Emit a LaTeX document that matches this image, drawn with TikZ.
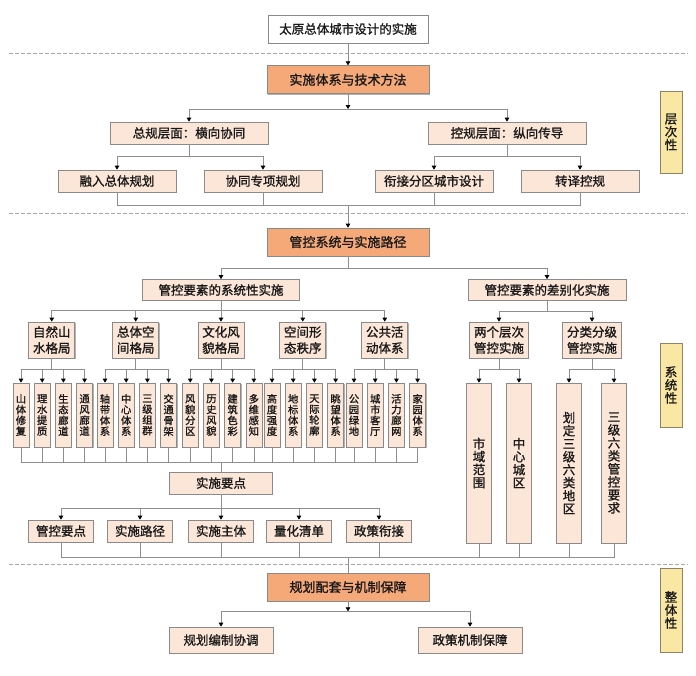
\documentclass[tikz,border=0pt]{standalone}
\usepackage{fontspec}
\setmainfont{Noto Sans CJK SC}[FakeBold=1.2]
\usetikzlibrary{positioning,arrows.meta,shadows}

\definecolor{headfill}{HTML}{F5A878}
\definecolor{peach}{HTML}{FCE6D7}
\definecolor{tagfill}{HTML}{FAE7A4}
\definecolor{tagline}{HTML}{8C8466}
\definecolor{boxline}{HTML}{8A8A8A}
\definecolor{linkgray}{HTML}{8E8E8E}

\tikzset{
  card/.style={draw=boxline, line width=.7pt, fill=peach, inner sep=0pt, align=center,
    text=black!90, font=\fontsize{12.5}{14}\selectfont,
    drop shadow={shadow xshift=.9pt, shadow yshift=-.9pt, fill=black, opacity=.3}},
  headbox/.style={card, fill=headfill, minimum width=162pt, minimum height=28pt, font=\fontsize{13}{14}\selectfont},
  titlebox/.style={card, fill=white, minimum width=160pt, minimum height=28pt},
  widebox/.style={card, minimum width=158pt, minimum height=22pt},
  lvlbox/.style={card, minimum width=118pt, minimum height=22pt},
  groupbox/.style={card, minimum width=46pt, minimum height=36pt, font=\fontsize{12.5}{16}\selectfont},
  leaf/.style={card, minimum width=16pt, minimum height=64pt, font=\fontsize{10.3}{10.8}\selectfont},
  tallbox/.style={card, minimum width=25pt, minimum height=160pt, font=\fontsize{12.5}{13}\selectfont},
  smallbox/.style={card, minimum width=65pt, minimum height=22pt},
  sidetag/.style={card, fill=tagfill, draw=tagline, minimum width=22pt, minimum height=84pt, font=\fontsize{12.5}{13}\selectfont},
  link/.style={draw=linkgray, line width=.7pt},
  arr/.style={link, -{Triangle[width=4.6pt,length=4pt,color=black]}},
  elbow/.style={to path={-| (\tikztotarget)}},
  vjoin/.style={to path={|- (\tikztotarget)}},
  sep/.style={draw=black!35, line width=.8pt, dash pattern=on 3.5pt off 2.5pt},
}

\begin{document}
\begin{tikzpicture}[x=1pt, y=-1pt]
\useasboundingbox (0,0) rectangle (696,675);

% section separators
\draw[sep] (9,53) -- (688,53);
\draw[sep] (9,213) -- (688,213);
\draw[sep] (9,564) -- (688,564);

% side tags
\node[sidetag, minimum height=82pt] (ycc) at (671,132) {层\\次\\性};
\node[sidetag] (xtx) at (671,385) {系\\统\\性};
\node[sidetag] (ztx) at (671,610) {整\\体\\性};

% top: implementation system
\node[titlebox] (t) at (348,29) {太原总体城市设计的实施};
\node[headbox, below=22pt of t] (o1) {实施体系与技术方法};
\node[widebox] (zg) at (189,133) {总规层面：横向协同};
\node[widebox] (kg) at (507,133) {控规层面：纵向传导};
\node[lvlbox] (rz) at (117,181) {融入总体规划};
\node[lvlbox] (xt) at (263,181) {协同专项规划};
\node[lvlbox] (xj) at (434,181) {衔接分区城市设计};
\node[lvlbox] (zy) at (580,181) {转译控规};

% middle: control system
\node[headbox] (o2) at (348,242) {管控系统与实施路径};
\node[widebox, minimum width=157pt, minimum height=21pt] (sy) at (221,290) {管控要素的系统性实施};
\node[widebox, minimum height=21pt] (cy) at (547,290) {管控要素的差别化实施};

\node[groupbox] (g1) at (51.75,340) {自然山\\水格局};
\node[groupbox] (g2) at (135.75,340) {总体空\\间格局};
\node[groupbox] (g3) at (221,340) {文化风\\貌格局};
\node[groupbox] (g4) at (302.75,340) {空间形\\态秩序};
\node[groupbox] (g5) at (384.75,340) {公共活\\动体系};
\node[groupbox, minimum width=59pt] (h1) at (499,340) {两个层次\\管控实施};
\node[groupbox, minimum width=59pt] (h2) at (592,340) {分类分级\\管控实施};

\node[leaf] (a1) at (21,415) {山\\体\\修\\复};
\node[leaf, right=4.5pt of a1] (a2) {理\\水\\提\\质};
\node[leaf, right=4.5pt of a2] (a3) {生\\态\\廊\\道};
\node[leaf, right=4.5pt of a3] (a4) {通\\风\\廊\\道};
\node[leaf] (b1) at (105,415) {轴\\带\\体\\系};
\node[leaf, right=4.5pt of b1] (b2) {中\\心\\体\\系};
\node[leaf, right=4.5pt of b2] (b3) {三\\级\\组\\群};
\node[leaf, right=4.5pt of b3] (b4) {交\\通\\骨\\架};
\node[leaf] (c1) at (190.25,415) {风\\貌\\分\\区};
\node[leaf, right=4.5pt of c1] (c2) {历\\史\\风\\貌};
\node[leaf, right=4.5pt of c2] (c3) {建\\筑\\色\\彩};
\node[leaf, right=4.5pt of c3] (c4) {多\\维\\感\\知};
\node[leaf] (d1) at (272,415) {高\\度\\强\\度};
\node[leaf, right=4.5pt of d1] (d2) {地\\标\\体\\系};
\node[leaf, right=4.5pt of d2] (d3) {天\\际\\轮\\廓};
\node[leaf, right=4.5pt of d3] (d4) {眺\\望\\体\\系};
\node[leaf] (e1) at (354,415) {公\\园\\绿\\地};
\node[leaf, right=4.5pt of e1] (e2) {城\\市\\客\\厅};
\node[leaf, right=4.5pt of e2] (e3) {活\\力\\廊\\网};
\node[leaf, right=4.5pt of e3] (e4) {家\\园\\体\\系};

\node[tallbox] (s1) at (479,463) {市\\域\\范\\围};
\node[tallbox] (s2) at (519,463) {中\\心\\城\\区};
\node[tallbox] (s3) at (569,463) {划\\定\\三\\级\\六\\类\\地\\区};
\node[tallbox] (s4) at (614,463) {三\\级\\六\\类\\管\\控\\要\\求};

\node[card, minimum width=103pt, minimum height=22pt] (k) at (221,483) {实施要点};
\node[smallbox] (p1) at (61,531) {管控要点};
\node[smallbox] (p2) at (140,531) {实施路径};
\node[smallbox] (p3) at (221,531) {实施主体};
\node[smallbox] (p4) at (299,531) {量化清单};
\node[smallbox] (p5) at (379,531) {政策衔接};

% bottom: supporting mechanisms
\node[headbox] (o3) at (348,587) {规划配套与机制保障};
\node[card, minimum width=104pt, minimum height=26pt] (f1) at (221,640) {规划编制协调};
\node[card, minimum width=104pt, minimum height=26pt] (f2) at (470,640) {政策机制保障};

% junctions and merge points
\coordinate (m1) at (348,205);
\coordinate (m2) at (221,462);
\coordinate (m3) at (348,557);

% connectors, top
\draw[arr] (t) -- (o1);
\draw[arr] (o1.south) -- ++(0,15) coordinate (j1);
\path (j1) edge[arr, elbow] (zg.north) edge[arr, elbow] (kg.north);
\draw[link] (zg.south) -- ++(0,12) coordinate (j2);
\draw[link] (kg.south) -- ++(0,12) coordinate (j3);
\path (j2) edge[arr, elbow] (rz.north) edge[arr, elbow] (xt.north);
\path (j3) edge[arr, elbow] (xj.north) edge[arr, elbow] (zy.north);
\path (rz.south) edge[link, vjoin] (m1) (xt.south) edge[link, vjoin] (m1)
      (xj.south) edge[link, vjoin] (m1) (zy.south) edge[link, vjoin] (m1);
\draw[arr] (m1) -- (o2.north);

% connectors, middle
\draw[link] (o2.south) -- ++(0,12) coordinate (j4);
\path (j4) edge[arr, elbow] (sy.north) edge[arr, elbow] (cy.north);
\draw[link] (sy.south) -- ++(0,9.5) coordinate (j5);
\draw[link] (cy.south) -- ++(0,10.5) coordinate (j6);
\path (j5) edge[arr, elbow] (g1.north) edge[arr, elbow] (g2.north) edge[arr, elbow] (g3.north)
           edge[arr, elbow] (g4.north) edge[arr, elbow] (g5.north);
\path (j6) edge[arr, elbow] (h1.north) edge[arr, elbow] (h2.north);

\draw[link] (g1.south) -- ++(0,11) coordinate (ja);
\draw[link] (g2.south) -- ++(0,11) coordinate (jb);
\draw[link] (g3.south) -- ++(0,11) coordinate (jc);
\draw[link] (g4.south) -- ++(0,11) coordinate (jd);
\draw[link] (g5.south) -- ++(0,11) coordinate (je);
\draw[link] (h1.south) -- ++(0,11) coordinate (jh1);
\draw[link] (h2.south) -- ++(0,11) coordinate (jh2);
\path (ja) edge[arr, elbow] (a1.north) edge[arr, elbow] (a2.north) edge[arr, elbow] (a3.north) edge[arr, elbow] (a4.north);
\path (jb) edge[arr, elbow] (b1.north) edge[arr, elbow] (b2.north) edge[arr, elbow] (b3.north) edge[arr, elbow] (b4.north);
\path (jc) edge[arr, elbow] (c1.north) edge[arr, elbow] (c2.north) edge[arr, elbow] (c3.north) edge[arr, elbow] (c4.north);
\path (jd) edge[arr, elbow] (d1.north) edge[arr, elbow] (d2.north) edge[arr, elbow] (d3.north) edge[arr, elbow] (d4.north);
\path (je) edge[arr, elbow] (e1.north) edge[arr, elbow] (e2.north) edge[arr, elbow] (e3.north) edge[arr, elbow] (e4.north);
\path (jh1) edge[arr, elbow] (s1.north) edge[arr, elbow] (s2.north);
\path (jh2) edge[arr, elbow] (s3.north) edge[arr, elbow] (s4.north);

\path (a1.south) edge[link, vjoin] (m2) (a2.south) edge[link, vjoin] (m2) (a3.south) edge[link, vjoin] (m2) (a4.south) edge[link, vjoin] (m2)
      (b1.south) edge[link, vjoin] (m2) (b2.south) edge[link, vjoin] (m2) (b3.south) edge[link, vjoin] (m2) (b4.south) edge[link, vjoin] (m2)
      (c1.south) edge[link, vjoin] (m2) (c2.south) edge[link, vjoin] (m2) (c3.south) edge[link, vjoin] (m2) (c4.south) edge[link, vjoin] (m2)
      (d1.south) edge[link, vjoin] (m2) (d2.south) edge[link, vjoin] (m2) (d3.south) edge[link, vjoin] (m2) (d4.south) edge[link, vjoin] (m2)
      (e1.south) edge[link, vjoin] (m2) (e2.south) edge[link, vjoin] (m2) (e3.south) edge[link, vjoin] (m2) (e4.south) edge[link, vjoin] (m2);
\draw[link] (m2) -- (k.north);

\draw[link] (k.south) -- ++(0,14) coordinate (j7);
\path (j7) edge[arr, elbow] (p1.north) edge[arr, elbow] (p2.north) edge[arr, elbow] (p3.north)
           edge[arr, elbow] (p4.north) edge[arr, elbow] (p5.north);

% connectors, bottom
\path (p1.south) edge[link, vjoin] (m3) (p2.south) edge[link, vjoin] (m3) (p3.south) edge[link, vjoin] (m3)
      (p4.south) edge[link, vjoin] (m3) (p5.south) edge[link, vjoin] (m3)
      (s1.south) edge[link, vjoin] (m3) (s2.south) edge[link, vjoin] (m3)
      (s3.south) edge[link, vjoin] (m3) (s4.south) edge[link, vjoin] (m3);
\draw[link] (m3) -- (o3.north);
\draw[arr] (o3.south) -- ++(0,10) coordinate (j8);
\path (j8) edge[arr, elbow] (f1.north) edge[arr, elbow] (f2.north);

\end{tikzpicture}
\end{document}
